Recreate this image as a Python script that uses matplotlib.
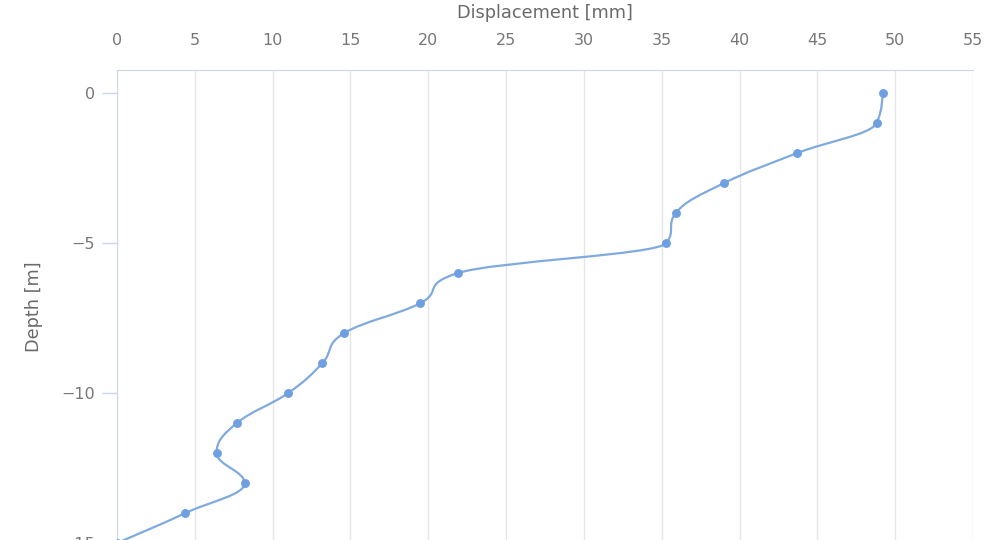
import numpy as np
import matplotlib
matplotlib.use("Agg")
import matplotlib.pyplot as plt
from matplotlib.path import Path
from matplotlib.patches import PathPatch

# values
depth = [0, -1, -2, -3, -4, -5, -6, -7, -8, -9, -10, -11, -12, -13, -14, -15]
displacement = [49.2, 48.8, 43.7, 39.0, 35.9, 35.3, 21.9, 19.5, 14.6, 13.2,
                11.0, 7.7, 6.4, 8.2, 4.4, 0.0]
x_ticks = list(range(0, 60, 5))
y_ticks = [0, -5, -10, -15]

LINE = "#80aade"
MARK = "#6e9fe0"
GRID = "#e6e6e6"
AXIS = "#ccd6eb"
TXT = "#6a6a6a"
TICK_TXT = "#777777"


def spline_path(t, v, smoothing=1.5):
    """Highcharts-style spline; t runs along the category axis."""
    n = len(t)
    denom = smoothing + 1
    right = [None] * n
    left = [None] * n
    for i in range(1, n - 1):
        px, py = t[i], v[i]
        lx, ly = t[i - 1], v[i - 1]
        nx, ny = t[i + 1], v[i + 1]
        lcx = (smoothing * px + lx) / denom
        lcy = (smoothing * py + ly) / denom
        rcx = (smoothing * px + nx) / denom
        rcy = (smoothing * py + ny) / denom
        corr = 0.0
        if rcx != lcx:
            corr = (rcy - lcy) * (rcx - px) / (rcx - lcx) + py - rcy
        lcy += corr
        rcy += corr
        if lcy > ly and lcy > py:
            lcy = max(ly, py)
            rcy = 2 * py - lcy
        elif lcy < ly and lcy < py:
            lcy = min(ly, py)
            rcy = 2 * py - lcy
        if rcy > ny and rcy > py:
            rcy = max(ny, py)
            lcy = 2 * py - rcy
        elif rcy < ny and rcy < py:
            rcy = min(ny, py)
            lcy = 2 * py - rcy
        left[i] = (lcx, lcy)
        right[i] = (rcx, rcy)
    verts = [(v[0], t[0])]
    codes = [Path.MOVETO]
    for i in range(1, n):
        r = right[i - 1] or (t[i - 1], v[i - 1])
        l = left[i] or (t[i], v[i])
        verts += [(r[1], r[0]), (l[1], l[0]), (v[i], t[i])]
        codes += [Path.CURVE4] * 3
    return Path(verts, codes)


fig = plt.figure(figsize=(9.95, 5.4), dpi=100)
# axes runs past the lower edge of the figure, as in the cropped reference
ax = fig.add_axes([117 / 995, 1 - 573 / 540, 856 / 995, (573 - 70) / 540])
ax.set_xlim(0, 55)
ax.set_ylim(-16, 0.77)

ax.add_patch(PathPatch(spline_path(depth, displacement), fill=False,
                       edgecolor=LINE, lw=1.6, zorder=3))
ax.plot(displacement, depth, ls="none", marker="o", ms=6.4,
        color=MARK, mec="none", zorder=4)

ax.set_xticks(x_ticks)
ax.set_yticks(y_ticks)
ax.set_yticklabels(["0", "\u22125", "\u221210", "\u221215"])
ax.xaxis.tick_top()
ax.xaxis.set_label_position("top")
ax.grid(axis="x", color=GRID, lw=1)
ax.set_axisbelow(True)
ax.tick_params(axis="x", length=0, pad=16, labelsize=11.5,
               labelcolor=TICK_TXT)
ax.tick_params(axis="y", length=11, width=1, color=AXIS, pad=5,
               labelsize=11.5, labelcolor=TICK_TXT)
for s in ("right", "bottom"):
    ax.spines[s].set_visible(False)
ax.spines["top"].set_color(AXIS)
ax.spines["left"].set_color(AXIS)

ax.set_xlabel("Displacement [mm]", fontsize=12.8, color=TXT, labelpad=11)
fig.text(34 / 995, 1 - 307 / 540, "Depth [m]", rotation=90, fontsize=12.8,
         color=TXT, ha="center", va="center")

fig.savefig("out.png", dpi=100)
